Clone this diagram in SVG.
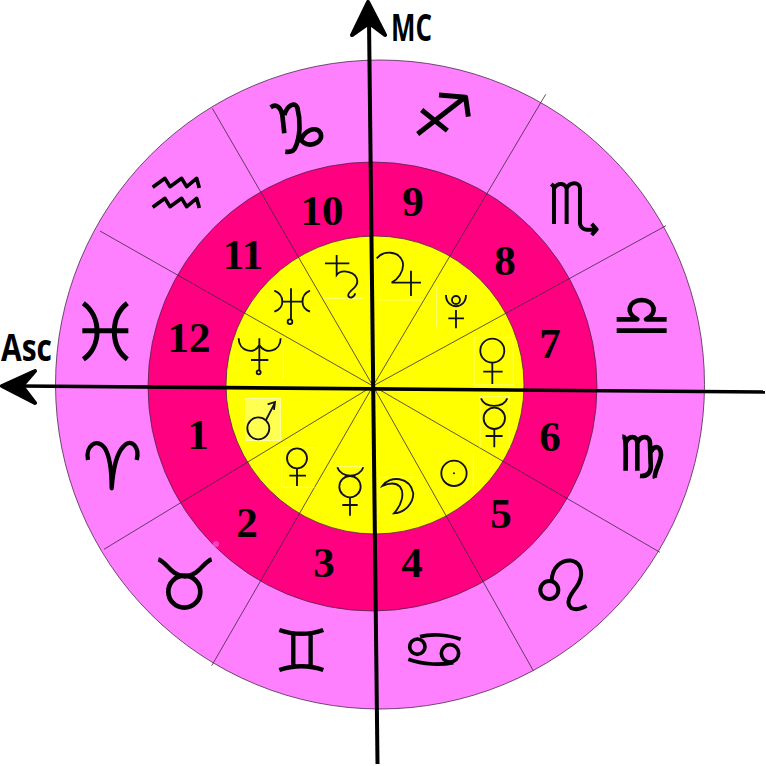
<svg xmlns="http://www.w3.org/2000/svg" width="766" height="766" viewBox="0 0 766 766">
<style>
.ring{stroke:#4a2a4a;stroke-width:.8}
.sp{stroke:#3a2a3a;stroke-width:.8;fill:none}
.z{fill:none;stroke:#000;stroke-linecap:butt;stroke-linejoin:round}
.p{fill:none;stroke:#101020;stroke-width:5.5}
.b{fill:none;stroke:#fff;stroke-width:2;opacity:.75}
.n{font-family:"Liberation Serif","Times New Roman",serif;font-weight:700;font-size:43px;text-anchor:middle;fill:#000}
.l{font-family:"Open Sans","Liberation Sans",sans-serif;font-weight:700;font-size:38px;fill:#000}
.ax{stroke:#000;fill:none;stroke-linecap:butt}
.ah{fill:#000;stroke:#000;stroke-width:4;stroke-linejoin:round}
</style>
<rect width="766" height="766" fill="#fff"/>
<g id="wheel">
<circle class="ring" cx="380" cy="384.5" r="324.5" fill="#ff80ff"/>
<circle class="ring" cx="372.5" cy="386.5" r="224.5" fill="#ff0080"/>
<circle class="ring" cx="375" cy="385" r="149" fill="#ffff00"/>
<circle cx="216" cy="544" r="3" fill="#ff80ff" opacity=".5"/>
</g>
<g id="spokes">
<path class="sp" d="M373 386L545.7 94.3M373 386L666 225.7M373 386L660 552.3M373 386L533.3 670.7M373 386L211.7 665.7M373 386L104 549.3M373 386L100 231M373 386L212.3 108.3"/>
</g>
<g id="signs-upper-left" transform="translate(50 70) scale(.3333)">
<path id="capricorn" class="z" stroke-width="14" d="M662 112C680 100 692 112 697 135L703 190M703 135C712 105 735 95 742 112C752 150 752 200 735 235C730 245 720 247 706 245M750 218C760 180 800 165 812 190C820 215 790 228 770 222C758 218 752 210 750 200"/>
<path id="aquarius" class="z" stroke-width="11" d="M308 352L345 325L360 350L395 325L410 350L440 325L448 354M308 412L345 385L360 410L395 385L410 410L440 385L448 414"/>
<path id="pisces" class="z" stroke-width="15" d="M100 700C155 740 155 830 100 868M232 700C180 740 180 830 232 868M97 782L235 782"/>
</g>
<g id="signs-upper-right" transform="translate(370 0) scale(.3333)">
<path id="sagittarius" class="z" stroke-width="15" d="M143 402L285 292M207 285L287 292L295 350M155 330L232 392"/>
<path id="scorpio" class="z" stroke-width="12" d="M544 552L552 560L552 672M552 565C565 545 585 550 590 565L590 672M590 565C600 545 628 545 630 565L630 670C632 690 650 692 680 688M665 672L680 688L665 705"/>
</g>
<g id="signs-right" transform="translate(560 280) scale(.3333)">
<path id="libra" class="z" stroke-width="14" d="M170 118L232 118C195 100 205 62 245 60C285 62 295 100 258 118L320 118M170 152L320 152"/>
<path id="virgo" class="z" stroke-width="14" d="M187 470C200 470 197 490 197 572M197 490C205 465 232 465 232 490L232 572M232 490C240 465 270 465 270 490L272 550C275 575 265 590 240 588M270 520C285 490 303 500 303 525C300 555 280 580 285 595"/>
</g>
<g id="signs-lower-right" transform="translate(370 380) scale(.3333)">
<path id="leo" class="z" stroke-width="12" d="M545 605C545 560 575 540 605 542C640 550 640 590 620 620C600 645 585 670 605 685C620 692 635 685 650 678"/>
<circle class="z" stroke-width="12" cx="538" cy="630" r="27"/>
<path id="cancer" class="z" stroke-width="11" d="M272 778C230 762 180 762 150 770M115 838C160 855 215 855 250 848"/>
<circle class="z" stroke-width="11" cx="142" cy="800" r="23"/>
<circle class="z" stroke-width="11" cx="240" cy="820" r="26"/>
</g>
<g id="signs-lower-left" transform="translate(0 320) scale(.3333)">
<path id="aries" class="z" stroke-width="13" d="M264 420C255 380 290 350 315 385C330 410 335 460 335 505C340 440 350 400 370 380C395 350 420 385 410 420"/>
<path id="taurus" class="z" stroke-width="13" d="M475 718C500 725 510 765 555 770C600 765 610 725 635 718"/>
<circle class="z" stroke-width="14" cx="553" cy="815" r="48"/>
<path id="gemini" class="z" stroke-width="13" d="M838 930C880 945 930 945 970 930M838 1050C880 1035 930 1035 970 1050M880 940L880 1040M932 940L932 1040"/>
</g>
<g id="planets" transform="translate(220 230) scale(.3333)">
<path class="b" d="M310 205L428 205M470 210L610 210M650 165L650 295M762 465L762 323L880 323L880 465ZM780 655L780 500L868 500L868 655M760 670L760 770M478 855L478 742L585 742M350 710L432 710M185 772L185 653L285 653M185 772L285 772M190 340L190 445"/>
<rect x="77" y="505" width="105" height="127" fill="#ffff60" stroke="#fff" stroke-width="2" opacity=".85"/>
<path id="saturn" class="p" d="M315 100L388 100M350 75L350 135C365 115 412 125 412 155C412 175 380 185 385 198C390 208 405 200 405 190"/>
<path id="jupiter" class="p" stroke-width="6" d="M470 85C490 62 535 60 548 95C555 125 530 150 515 158L603 158M573 122L573 198"/>
<path id="pluto" class="p" d="M678 195C678 240 738 240 738 195M708 240L708 295M685 265L732 265"/>
<circle class="p" cx="708" cy="210" r="12"/>
<path id="venus-7" class="p" d="M817 398L817 462M790 425L848 425"/>
<circle class="p" cx="817" cy="362" r="36"/>
<path id="mercury-6" class="p" d="M783 505C795 535 850 535 862 505M823 597L823 652M797 618L848 618"/>
<circle class="p" cx="823" cy="565" r="32"/>
<circle id="sun" class="p" cx="702" cy="730" r="38"/>
<circle cx="702" cy="730" r="3" fill="#101020"/>
<path id="moon" class="p" d="M487 768C510 735 570 740 580 790C580 820 555 848 522 850C545 825 555 790 540 770C525 755 505 760 487 768Z"/>
<path id="mercury-3" class="p" d="M352 712C362 745 420 745 430 712M390 802L390 857M367 825L413 825"/>
<circle class="p" cx="390" cy="770" r="32"/>
<path id="venus-2" class="p" d="M231 715L231 768M208 737L258 737"/>
<circle class="p" cx="231" cy="685" r="30"/>
<path id="mars" class="p" d="M138 570L165 518M143 523L165 516L162 540"/>
<circle class="p" cx="115" cy="595" r="33"/>
<path id="neptune" class="p" d="M56 325C56 365 105 375 118 345C135 375 182 365 182 325M118 325L118 420M93 390L145 390"/>
<circle class="p" cx="116" cy="427" r="6"/>
<path id="uranus" class="p" d="M163 182C195 195 195 235 163 245M270 182C240 195 240 235 270 245M188 215L245 215M213 175L213 268"/>
<circle class="p" cx="210" cy="275" r="7"/>
</g>
<g id="houses">
<text class="n" x="198" y="449">1</text>
<text class="n" x="247" y="537">2</text>
<text class="n" x="324" y="577">3</text>
<text class="n" x="412" y="577">4</text>
<text class="n" x="501" y="528">5</text>
<text class="n" x="550" y="451">6</text>
<text class="n" x="550" y="358">7</text>
<text class="n" x="505" y="275">8</text>
<text class="n" x="413" y="216">9</text>
<text class="n" x="322" y="225">10</text>
<text class="n" x="243" y="269">11</text>
<text class="n" x="189" y="352">12</text>
</g>
<g id="axes">
<path class="ax" stroke-width="4" d="M369 20L377.5 764"/>
<path class="ax" stroke-width="3.6" d="M20 386L765 392"/>
<path class="ah" d="M368 2L385 35L369 23L352 35Z"/>
<path class="ah" d="M2 386L35 371L22 386L35 403Z"/>
</g>
<g id="axis-labels">
<text class="l" x="391" y="41" textLength="41" lengthAdjust="spacingAndGlyphs">MC</text>
<text class="l" x="1" y="361" textLength="51" lengthAdjust="spacingAndGlyphs">Asc</text>
</g>
</svg>
